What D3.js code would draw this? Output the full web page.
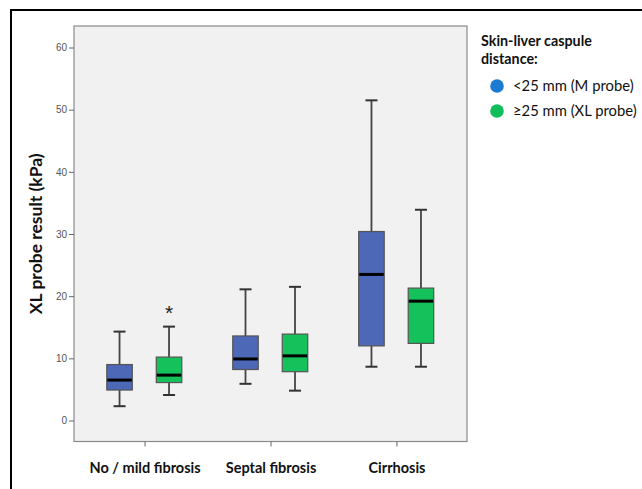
<!DOCTYPE html>
<html>
<head>
<meta charset="utf-8">
<script src="https://cdn.jsdelivr.net/npm/d3@7"></script>
<style>
  body { margin: 0; background: #fff; }
  svg text { font-family: Lato, "Open Sans", sans-serif; }
  .tick-y text { font-family: "Liberation Sans", Arial, sans-serif; }
</style>
</head>
<body>
<div class="chart"></div>
<script>
// categories and groups
var categories = ["No / mild fibrosis", "Septal fibrosis", "Cirrhosis"];
var groups = ["<25 mm (M probe)", "\u226525 mm (XL probe)"];
var yTicks = [0, 10, 20, 30, 40, 50, 60];

// box stats: [whiskerLow, q1, median, q3, whiskerHigh]
var mProbe = [
    [2.3, 4.9, 6.5, 9.0, 14.3],
    [5.9, 8.2, 9.9, 13.6, 21.1],
    [8.65, 12.0, 23.5, 30.4, 51.5]
];
var xlProbe = [
    [4.1, 6.1, 7.3, 10.2, 15.1],
    [4.8, 7.85, 10.4, 13.9, 21.5],
    [8.65, 12.4, 19.2, 21.3, 33.9]
];
// extreme outliers (asterisks): [category index, group index, value]
var extremes = [[0, 1, 17.9]];

var boxColors = ["#4c68b6", "#14c15b"],
    legendColors = ["#1b7bd0", "#12bd5b"];

var W = 642, H = 489;
var plot = {left: 74, right: 467, top: 26, bottom: 441.5};

var svg = d3.select(".chart").append("svg")
    .attr("width", W)
    .attr("height", H);

// outer frame
svg.append("rect")
    .attr("x", 11).attr("y", 10)
    .attr("width", 700).attr("height", 600)
    .attr("fill", "#fff")
    .attr("stroke", "#000")
    .attr("stroke-width", 2);

// scales
var yScale = d3.scaleLinear().domain([0, 60]).range([420.5, 47.5]);
var xScale = d3.scalePoint().domain(categories)
    .range([plot.left, plot.right]).padding(0.56);
var groupOffset = d3.scalePoint().domain([0, 1]).range([-25, 24.5]);

// plot background
svg.append("rect")
    .attr("x", plot.left).attr("y", plot.top)
    .attr("width", plot.right - plot.left)
    .attr("height", plot.bottom - plot.top)
    .attr("fill", "#f1f1f1")
    .attr("stroke", "#8a8a8a")
    .attr("stroke-width", 1.2);

// y axis
var yAxis = d3.axisLeft(yScale).tickValues(yTicks).tickSize(5).tickPadding(2);
var yg = svg.append("g")
    .attr("class", "tick-y")
    .attr("transform", "translate(" + plot.left + ",0)")
    .call(yAxis);
yg.select(".domain").remove();
yg.selectAll("line").attr("stroke", "#666");
yg.selectAll("text").attr("fill", "#555").style("font-size", "10px");

// x axis
var xAxis = d3.axisBottom(xScale).tickSize(5).tickPadding(16);
var xg = svg.append("g")
    .attr("transform", "translate(0," + plot.bottom + ")")
    .call(xAxis);
xg.select(".domain").remove();
xg.selectAll("line").attr("stroke", "#666");
xg.selectAll("text")
    .attr("fill", "#111")
    .style("font-size", "14.5px")
    .style("font-weight", "bold");

// y label
svg.append("text")
    .attr("transform", "translate(42," + ((plot.top + plot.bottom) / 2) + ")rotate(-90)")
    .attr("text-anchor", "middle")
    .style("font-size", "17.5px")
    .style("font-weight", "bold")
    .attr("fill", "#111")
    .text("XL probe result (kPa)");

// boxes
var boxW = 25.5, capW = 12;
var boxes = [];
categories.forEach(function(c, i) {
    [mProbe, xlProbe].forEach(function(s, g) {
        boxes.push({cat: c, g: g, v: s[i]});
    });
});

var bg = svg.selectAll(".box").data(boxes).enter().append("g")
    .attr("class", "box")
    .attr("transform", function(d) {
        return "translate(" + (xScale(d.cat) + groupOffset(d.g)) + ",0)";
    });

// whiskers
bg.append("line")
    .attr("x1", 0).attr("x2", 0)
    .attr("y1", function(d) { return yScale(d.v[4]); })
    .attr("y2", function(d) { return yScale(d.v[3]); })
    .attr("stroke", "#444").attr("stroke-width", 1.8);
bg.append("line")
    .attr("x1", 0).attr("x2", 0)
    .attr("y1", function(d) { return yScale(d.v[1]); })
    .attr("y2", function(d) { return yScale(d.v[0]); })
    .attr("stroke", "#444").attr("stroke-width", 1.8);
// caps
[0, 4].forEach(function(k) {
    bg.append("line")
        .attr("x1", -capW / 2).attr("x2", capW / 2)
        .attr("y1", function(d) { return yScale(d.v[k]); })
        .attr("y2", function(d) { return yScale(d.v[k]); })
        .attr("stroke", "#333").attr("stroke-width", 2);
});
// box
bg.append("rect")
    .attr("x", -boxW / 2).attr("width", boxW)
    .attr("y", function(d) { return yScale(d.v[3]); })
    .attr("height", function(d) { return yScale(d.v[1]) - yScale(d.v[3]); })
    .attr("fill", function(d) { return boxColors[d.g]; })
    .attr("stroke", "#555").attr("stroke-width", 1.2);
// median
bg.append("line")
    .attr("x1", -boxW / 2 + 0.5).attr("x2", boxW / 2 - 0.5)
    .attr("y1", function(d) { return yScale(d.v[2]); })
    .attr("y2", function(d) { return yScale(d.v[2]); })
    .attr("stroke", "#000").attr("stroke-width", 3);

// extreme outliers
svg.selectAll(".extreme").data(extremes).enter().append("text")
    .attr("class", "extreme")
    .attr("x", function(d) { return xScale(categories[d[0]]) + groupOffset(d[1]); })
    .attr("y", function(d) { return yScale(d[2]) + 11; })
    .attr("text-anchor", "middle")
    .style("font-family", "'Liberation Sans', Arial, sans-serif")
    .style("font-size", "21px")
    .attr("fill", "#222")
    .text("*");

// legend
var legend = svg.append("g").attr("transform", "translate(481,0)");
legend.append("text").attr("x", 0).attr("y", 46)
    .style("font-size", "14.3px").style("font-weight", "bold").attr("fill", "#111")
    .text("Skin-liver caspule");
legend.append("text").attr("x", 0).attr("y", 64)
    .style("font-size", "14.3px").style("font-weight", "bold").attr("fill", "#111")
    .text("distance:");
var items = legend.selectAll(".item").data(groups).enter().append("g")
    .attr("class", "item")
    .attr("transform", function(d, i) { return "translate(0," + (86 + i * 25) + ")"; });
items.append("circle")
    .attr("cx", 16).attr("cy", 0).attr("r", 6.8)
    .attr("fill", function(d, i) { return legendColors[i]; });
items.append("text")
    .attr("x", 32).attr("y", 5)
    .style("font-size", "14.8px").attr("fill", "#111")
    .text(function(d) { return d; });
</script>
</body>
</html>
